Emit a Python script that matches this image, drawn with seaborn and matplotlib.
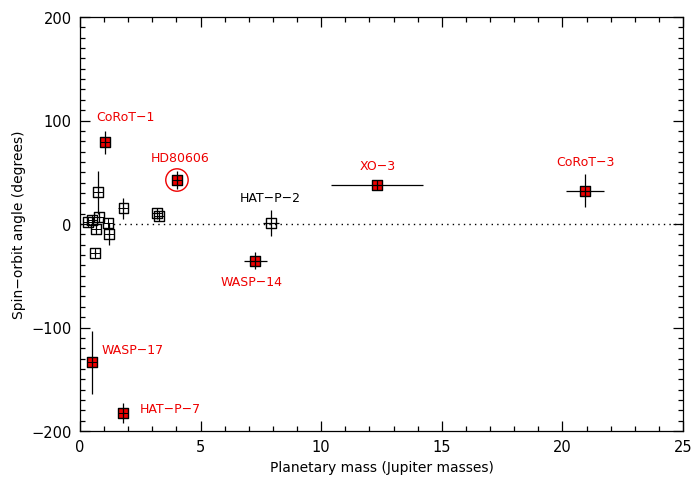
import matplotlib
matplotlib.use("Agg")
import matplotlib.pyplot as plt
from matplotlib.ticker import MultipleLocator
import numpy as np
import pandas as pd
import seaborn as sns

# Planets without a name tag (open squares)
other_mass = [0.34, 0.51, 0.65, 0.80, 1.17, 1.20, 0.62, 0.76, 1.80, 3.18, 3.29]
other_mass_err = [0.03, 0.03, 0.03, 0.05, 0.03, 0.06, 0.03, 0.05, 0.05, 0.1, 0.1]
other_angle = [2.2, 3.9, -4.8, 6.5, 0.7, -9.7, -28.0, 30.6, 15.2, 10.3, 7.4]
other_angle_err = [3, 3, 4, 4.7, 1, 11, 3, 21, 10, 5, 4.5]

# Named planets
named = ["CoRoT\u22121", "HD80606", "XO\u22123", "CoRoT\u22123", "HAT\u2212P\u22122",
         "WASP\u221214", "WASP\u221217", "HAT\u2212P\u22127"]
named_mass = [1.04, 4.02, 12.3, 20.95, 7.92, 7.26, 0.50, 1.80]
named_mass_err = [0.06, 0.1, 1.9, 0.79, 0.35, 0.48, 0.03, 0.06]
named_angle = [79.0, 42.5, 37.7, 32.2, 1.0, -35.4, -133.0, -182.6]
named_angle_lo = [11, 9, 3.7, 16, 13, 8, 31, 10]
named_angle_hi = [11, 9, 3.7, 16, 13, 8, 30, 10]
highlight = [True, True, True, True, False, True, True, True]
label_x = [1.87, 4.15, 12.35, 20.94, 7.88, 7.13, 2.2, 3.73]
label_y = [103.4, 64.7, 57.0, 60.0, 26.0, -56.0, -120.8, -177.8]

sns.set_style("ticks")
plt.rcParams["font.family"] = ["DejaVu Sans"]
plt.rcParams["text.color"] = "black"
plt.rcParams["axes.labelcolor"] = "black"
plt.rcParams["xtick.color"] = "black"
plt.rcParams["ytick.color"] = "black"

fig = plt.figure(figsize=(6.98, 4.81), dpi=100)
ax = fig.add_axes([80 / 698, 49 / 481, 603 / 698, 414 / 481])

RED = "#ee0000"
SQ = 50

# zero line
ax.plot([0, 25], [0, 0], linestyle=(0, (1, 3)), color="black", lw=1.0, zorder=1)

# open squares
df_o = pd.DataFrame({"mass": other_mass, "angle": other_angle})
sns.scatterplot(data=df_o, x="mass", y="angle", marker="s", s=SQ,
                facecolor="none", edgecolor="black", linewidth=1.0,
                ax=ax, zorder=3, legend=False)

# named planets
df_n = pd.DataFrame({"mass": named_mass, "angle": named_angle, "hl": highlight})
hl = df_n[df_n["hl"]]
nohl = df_n[~df_n["hl"]]
sns.scatterplot(data=hl, x="mass", y="angle", marker="s", s=SQ,
                color=RED, edgecolor="black", linewidth=1.0,
                ax=ax, zorder=3, legend=False)
sns.scatterplot(data=nohl, x="mass", y="angle", marker="s", s=SQ,
                facecolor="none", edgecolor="black", linewidth=1.0,
                ax=ax, zorder=3, legend=False)

# error bars drawn over the symbols
ax.errorbar(other_mass, other_angle, xerr=other_mass_err, yerr=other_angle_err,
            fmt="none", ecolor="black", elinewidth=0.9, capsize=0, zorder=4)
ax.errorbar(named_mass, named_angle, xerr=named_mass_err,
            yerr=[named_angle_lo, named_angle_hi],
            fmt="none", ecolor="black", elinewidth=0.9, capsize=0, zorder=4)

# cross inside each symbol
all_m = other_mass + named_mass
all_a = other_angle + named_angle
ax.scatter(all_m, all_a, marker="+", s=SQ, color="black", linewidths=0.7, zorder=5)

# ring around HD80606
i = named.index("HD80606")
ax.scatter([named_mass[i]], [named_angle[i]], marker="o", s=260,
           facecolor="none", edgecolor=RED, linewidth=1.0, zorder=5)

for name, lx, ly, h in zip(named, label_x, label_y, highlight):
    ax.text(lx, ly, name, color=RED if h else "black", fontsize=9,
            ha="center", va="center")

ax.set_xlim(0, 25)
ax.set_ylim(-200, 200)
ax.xaxis.set_major_locator(MultipleLocator(5))
ax.xaxis.set_minor_locator(MultipleLocator(1))
ax.yaxis.set_major_locator(MultipleLocator(100))
ax.yaxis.set_minor_locator(MultipleLocator(10))
ax.tick_params(which="both", direction="in", top=True, right=True,
               color="black", width=0.9)
ax.tick_params(which="major", length=7, labelsize=10.5, pad=6)
ax.tick_params(which="minor", length=3.5)
for sp in ax.spines.values():
    sp.set_color("black")
    sp.set_linewidth(0.9)

ax.set_xlabel("Planetary mass (Jupiter masses)", fontsize=10)
ax.set_ylabel("Spin\u2212orbit angle (degrees)", fontsize=10)

fig.savefig("out.png", dpi=100)
